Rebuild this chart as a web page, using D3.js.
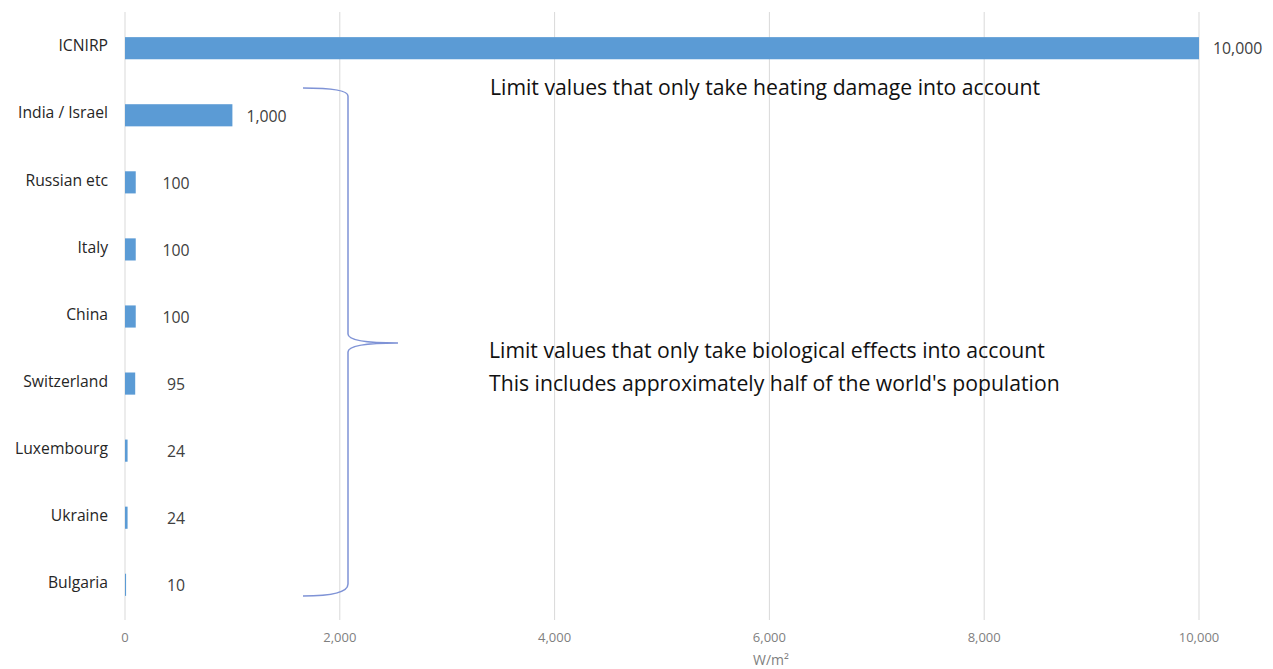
<!DOCTYPE html>
<html><head><meta charset="utf-8">
<script src="https://cdn.jsdelivr.net/npm/d3@7"></script>
<style>body{margin:0;background:#fff}svg{display:block}</style>
</head><body>
<svg id="c" width="1273" height="669"></svg>
<script>
const categories = ["ICNIRP","India / Israel","Russian etc","Italy","China","Switzerland","Luxembourg","Ukraine","Bulgaria"];
const values = [10000,1000,100,100,100,95,24,24,10];
const tickValues = [0,2000,4000,6000,8000,10000];
const axisTitle = "W/m²";
const noteHeating = ["Limit values that only take heating damage into account"];
const noteBio = ["Limit values that only take biological effects into account","This includes approximately half of the world's population"];

const svg = d3.select("#c");
const font = "'Open Sans', sans-serif";
const x = d3.scaleLinear().domain([0,10000]).range([125,1199]);
const y = d3.scaleBand().domain(categories).range([15,618]).paddingInner(0.67).paddingOuter(0.33);

// gridlines
svg.append("g").selectAll("line").data(tickValues).join("line")
  .attr("x1",d=>x(d)).attr("x2",d=>x(d)).attr("y1",12).attr("y2",620)
  .attr("stroke","#d9d9d9").attr("stroke-width",1);

// bars
svg.append("g").selectAll("rect").data(values).join("rect")
  .attr("x",x(0)).attr("y",(d,i)=>y(categories[i]))
  .attr("width",d=>Math.max(0,x(d)-x(0))).attr("height",y.bandwidth())
  .attr("fill","#5b9bd5");

// category labels
svg.append("g").selectAll("text").data(categories).join("text")
  .attr("x",108).attr("y",d=>y(d)+y.bandwidth()/2-1)
  .attr("text-anchor","end").attr("dominant-baseline","middle")
  .attr("font-family",font).attr("font-size",15.7).attr("fill","#262626")
  .text(d=>d);

// value labels
const fmt = d3.format(",");
svg.append("g").selectAll("text").data(values).join("text")
  .each(function(d,i){
    const end = x(d)+14;
    const t = d3.select(this);
    if (end < 160) t.attr("x",176).attr("text-anchor","middle");
    else t.attr("x",end).attr("text-anchor","start");
    t.attr("y",y(categories[i])+y.bandwidth()/2+2);
  })
  .attr("dominant-baseline","middle")
  .attr("font-family",font).attr("font-size",15.8).attr("fill","#404040")
  .text(d=>fmt(d));

// x axis tick labels
svg.append("g").selectAll("text").data(tickValues).join("text")
  .attr("x",d=>x(d)).attr("y",642).attr("text-anchor","middle")
  .attr("font-family",font).attr("font-size",13).attr("fill","#7f7f7f")
  .text(d=>fmt(d));
svg.append("text").attr("x",771).attr("y",665).attr("text-anchor","middle")
  .attr("font-family",font).attr("font-size",14).attr("fill","#7f7f7f").text(axisTitle);

// brace
const bx = 348;
const brace = d3.path();
brace.moveTo(303,88);
brace.quadraticCurveTo(bx,88,bx,96);
brace.lineTo(bx,334);
brace.quadraticCurveTo(bx,343,398,343);
brace.quadraticCurveTo(bx,343,bx,352);
brace.lineTo(bx,584);
brace.quadraticCurveTo(bx,596,303,596);
svg.append("path").attr("d",brace.toString()).attr("fill","none")
  .attr("stroke","#7f93d6").attr("stroke-width",1.5);

// annotations
svg.append("g").selectAll("text").data(noteHeating).join("text")
  .attr("x",490).attr("y",(d,i)=>95+i*33)
  .attr("font-family",font).attr("font-size",21.2).attr("fill","#111")
  .text(d=>d);
svg.append("g").selectAll("text").data(noteBio).join("text")
  .attr("x",489).attr("y",(d,i)=>358+i*33)
  .attr("font-family",font).attr("font-size",21.2).attr("fill","#111")
  .text(d=>d);
</script>
</body></html>
